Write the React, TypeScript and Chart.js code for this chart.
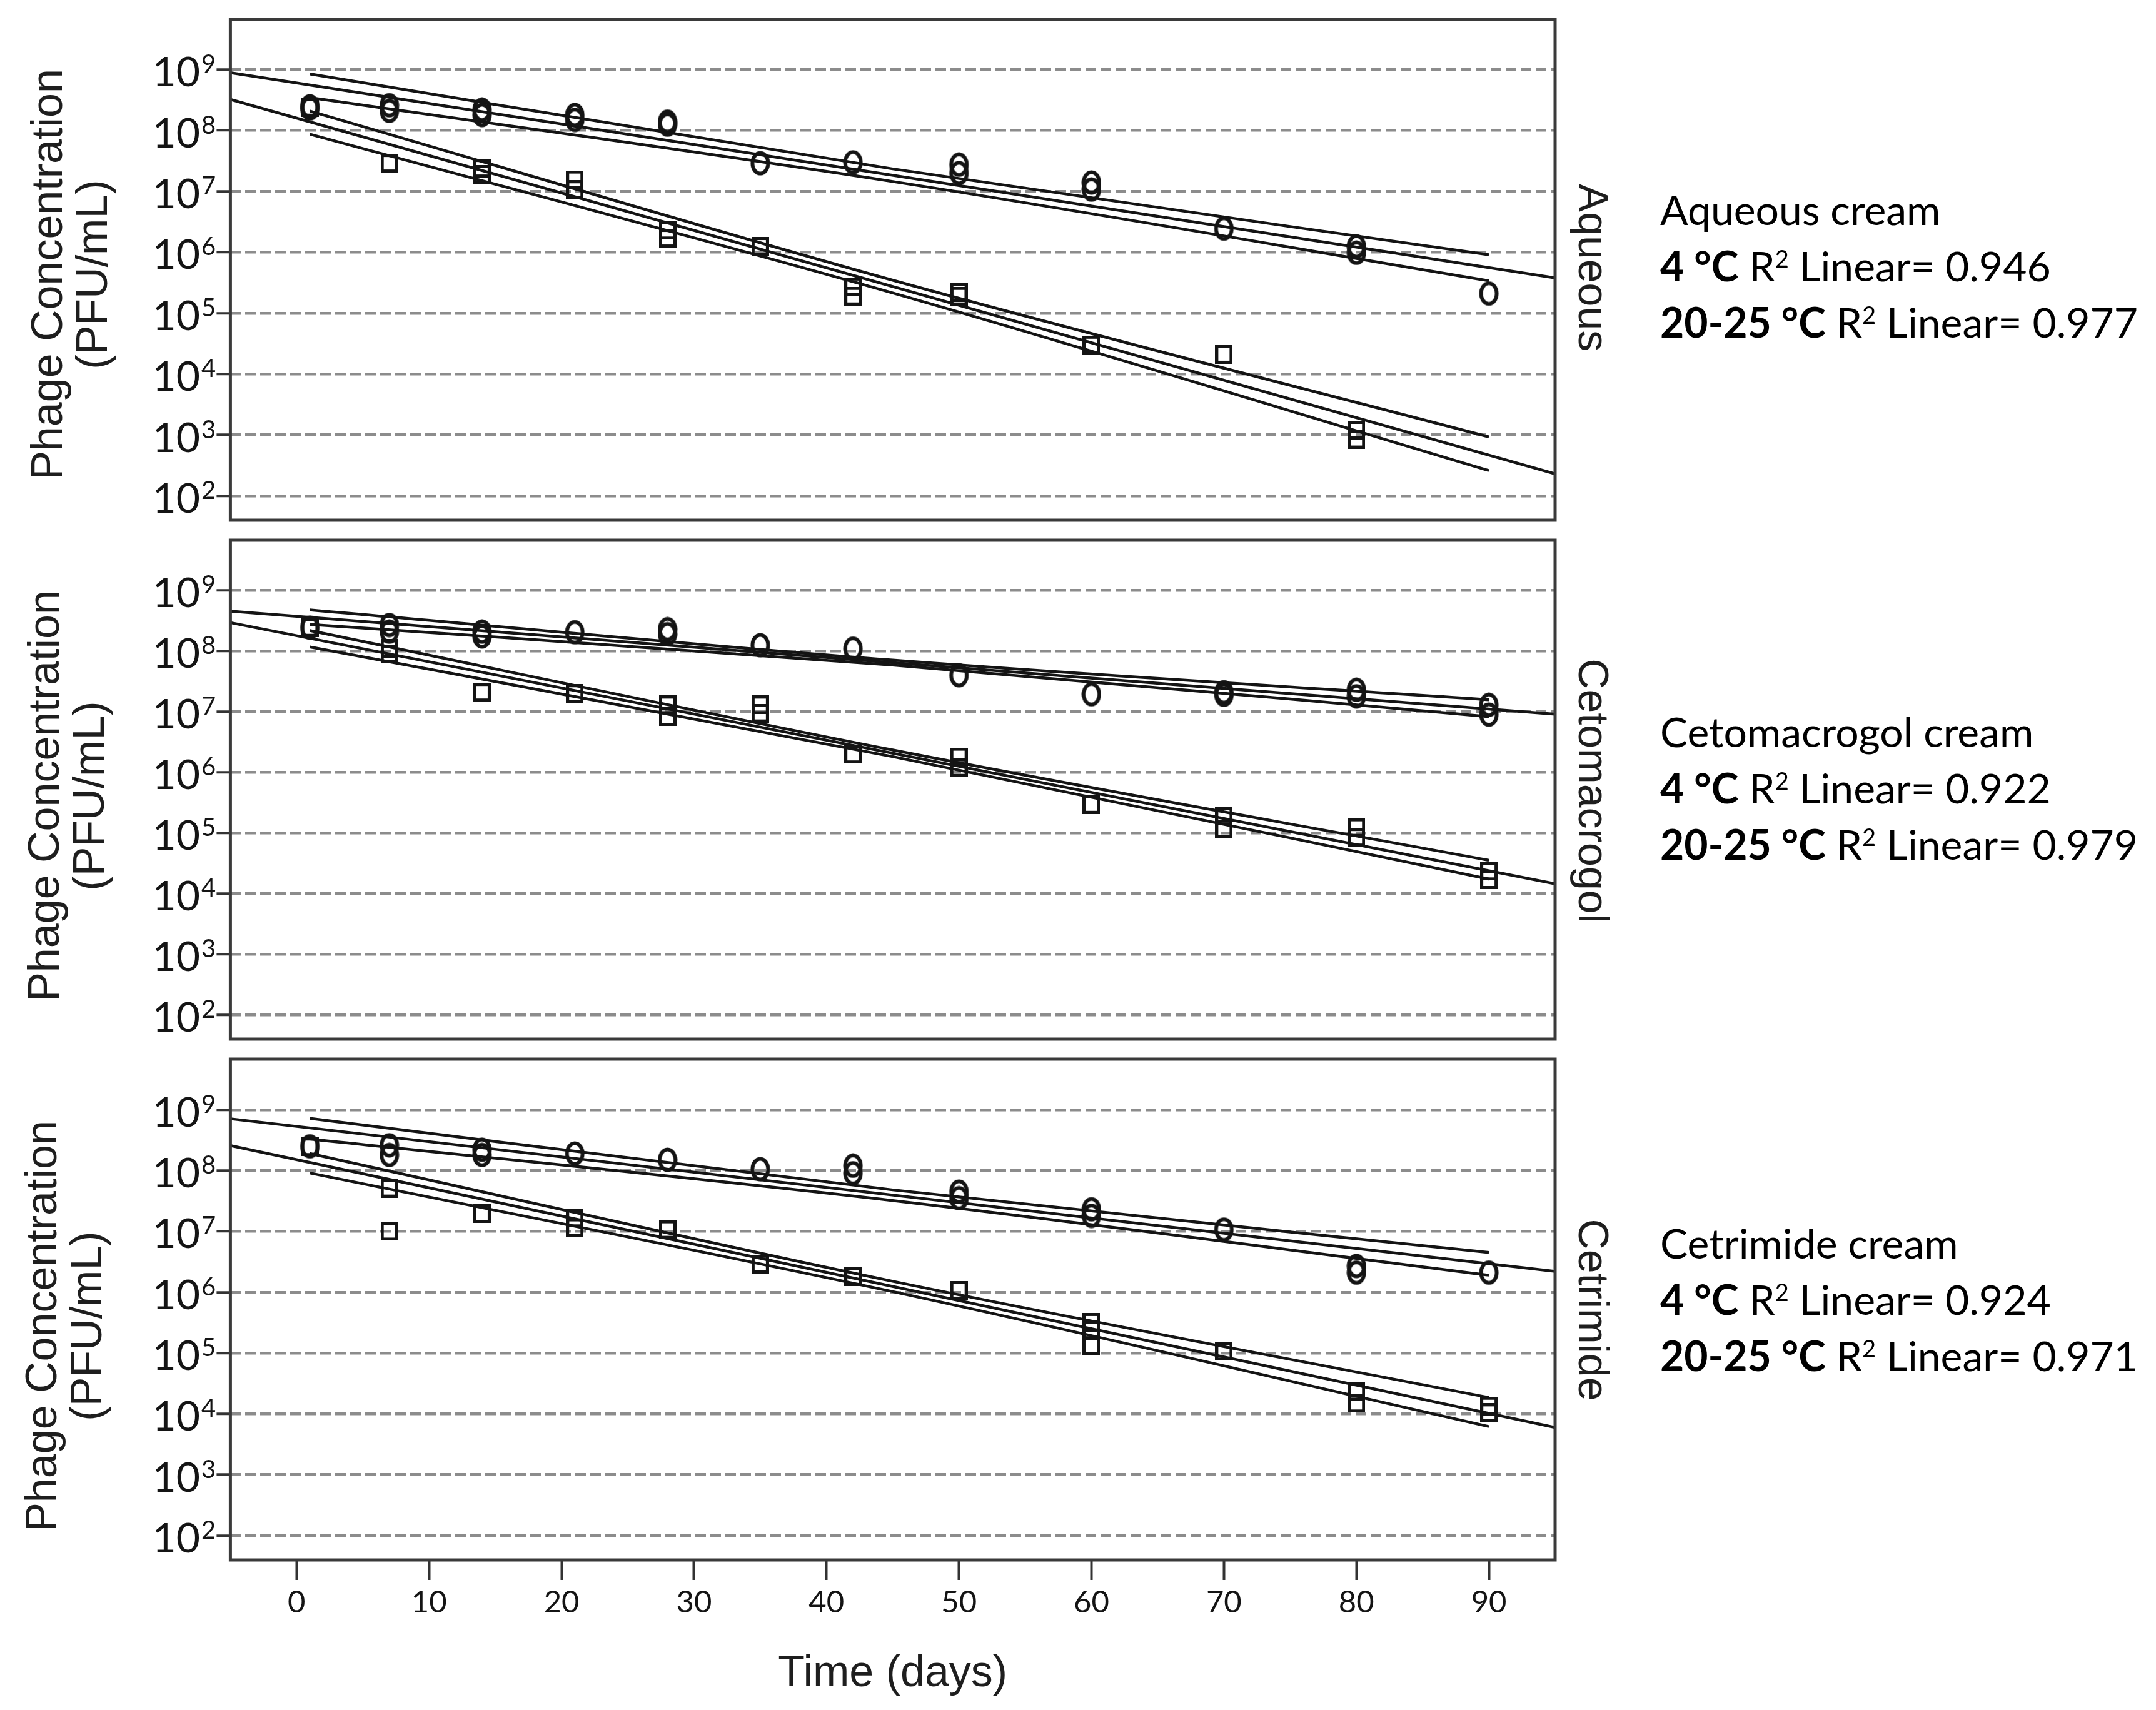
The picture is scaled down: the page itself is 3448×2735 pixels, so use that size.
import { useEffect, useRef } from "react"
import Chart from "chart.js/auto"

// ---- data (days vs PFU/mL) ----
const X_TICKS = [0, 10, 20, 30, 40, 50, 60, 70, 80, 90]
const Y_TICKS = [1e2, 1e3, 1e4, 1e5, 1e6, 1e7, 1e8, 1e9]
const FIT_DAYS = [-5, 95]
const CI_DAYS = [1, 45, 90]

// Aqueous cream
const AQ_COLD_DAYS = [1, 1, 7, 7, 14, 14, 21, 21, 28, 28, 35, 42, 50, 50, 60, 60, 70, 80, 80, 90]
const AQ_COLD_PFU = [2.5e8, 2.3e8, 2.6e8, 2.1e8, 2.2e8, 1.8e8, 1.8e8, 1.5e8, 1.4e8, 1.25e8, 2.9e7, 3.0e7, 2.75e7, 2.0e7, 1.4e7, 1.07e7, 2.45e6, 1.25e6, 9.8e5, 2.1e5]
const AQ_ROOM_DAYS = [1, 7, 14, 14, 21, 21, 28, 28, 35, 42, 42, 50, 50, 60, 70, 80, 80]
const AQ_ROOM_PFU = [2.4e8, 2.9e7, 2.4e7, 1.9e7, 1.55e7, 1.07e7, 2.3e6, 1.7e6, 1.25e6, 2.7e5, 1.9e5, 2.2e5, 1.9e5, 3.0e4, 2.1e4, 1.2e3, 8.5e2]
const AQ_COLD_FIT = [8.9e8, 3.8e5]
const AQ_COLD_CI_HI = [8.5e8, 2.34e7, 9.1e5]
const AQ_COLD_CI_LO = [3.47e8, 1.45e7, 3.4e5]
const AQ_ROOM_FIT = [3.24e8, 2.3e2]
const AQ_ROOM_CI_HI = [2.09e8, 3.47e5, 9.3e2]
const AQ_ROOM_CI_LO = [8.7e7, 2.14e5, 2.6e2]

// Cetomacrogol cream
const CE_COLD_DAYS = [1, 7, 7, 14, 14, 21, 28, 28, 35, 42, 50, 60, 70, 70, 80, 80, 90, 90]
const CE_COLD_PFU = [2.45e8, 2.7e8, 2.1e8, 2.1e8, 1.75e8, 2.05e8, 2.3e8, 1.9e8, 1.25e8, 1.1e8, 4.0e7, 1.95e7, 2.1e7, 1.9e7, 2.3e7, 1.8e7, 1.3e7, 9.0e6]
const CE_ROOM_DAYS = [1, 7, 7, 14, 21, 28, 28, 35, 35, 42, 50, 50, 60, 70, 70, 80, 80, 90, 90]
const CE_ROOM_PFU = [2.45e8, 1.1e8, 9.0e7, 2.1e7, 2.0e7, 1.3e7, 8.3e6, 1.3e7, 9.5e6, 2.0e6, 1.8e6, 1.2e6, 2.95e5, 1.9e5, 1.17e5, 1.23e5, 8.5e4, 2.35e4, 1.7e4]
const CE_COLD_FIT = [4.57e8, 9.1e6]
const CE_COLD_CI_HI = [4.8e8, 7.1e7, 1.58e7]
const CE_COLD_CI_LO = [2.75e8, 5.9e7, 8.3e6]
const CE_ROOM_FIT = [2.95e8, 1.45e4]
const CE_ROOM_CI_HI = [2.19e8, 2.34e6, 3.55e4]
const CE_ROOM_CI_LO = [1.17e8, 1.82e6, 1.74e4]

// Cetrimide cream
const CT_COLD_DAYS = [1, 7, 7, 14, 14, 21, 28, 35, 42, 42, 50, 50, 60, 60, 70, 80, 80, 90]
const CT_COLD_PFU = [2.5e8, 2.6e8, 1.8e8, 2.2e8, 1.8e8, 1.9e8, 1.5e8, 1.05e8, 1.2e8, 9.0e7, 4.5e7, 3.5e7, 2.3e7, 1.8e7, 1.07e7, 2.7e6, 2.1e6, 2.1e6]
const CT_ROOM_DAYS = [1, 7, 7, 14, 21, 21, 28, 35, 42, 50, 60, 60, 60, 70, 80, 80, 90, 90]
const CT_ROOM_PFU = [2.45e8, 5.1e7, 1.0e7, 1.95e7, 1.65e7, 1.15e7, 1.07e7, 2.9e6, 1.8e6, 1.07e6, 3.2e5, 2.4e5, 1.3e5, 1.07e5, 2.35e4, 1.5e4, 1.35e4, 1.05e4]
const CT_COLD_FIT = [7.08e8, 2.19e6]
const CT_COLD_CI_HI = [7.2e8, 4.8e7, 4.5e6]
const CT_COLD_CI_LO = [3.3e8, 3.2e7, 1.9e6]
const CT_ROOM_FIT = [2.57e8, 6.0e3]
const CT_ROOM_CI_HI = [1.9e8, 1.51e6, 1.86e4]
const CT_ROOM_CI_LO = [9.1e7, 1.02e6, 6.2e3]

const PANEL_NAMES = ["Aqueous", "Cetomacrogol", "Cetrimide"]
const CREAM_NAMES = ["Aqueous cream", "Cetomacrogol cream", "Cetrimide cream"]
const R2_COLD = ["0.946", "0.922", "0.924"]
const R2_ROOM = ["0.977", "0.979", "0.971"]

const Y_MIN = 10 ** 1.6
const Y_MAX = 10 ** 9.83

// ---- layout (page pixels) ----
const PAGE_W = 3448
const PAGE_H = 2735
const PLOT_LEFT = 368.4
const PLOT_RIGHT = 2487
const X_AXIS_H = 110
const INK = "#141414"
const SANS = '"Liberation Sans", Arial, sans-serif'
const CAL = "Lato, sans-serif"

const PANELS = [
  { top: 0, h: 848, padTop: 30.5, padBottom: 14, titleCY: 439, titleX: 99, labelCY: 428, annot: [360, 450, 540] },
  { top: 848, h: 830, padTop: 13.5, padBottom: 12.3, titleCY: 1273, titleX: 94, labelCY: 1265, annot: [1195, 1285, 1375] },
  { top: 1678, h: 1057, padTop: 15, padBottom: 240 - X_AXIS_H, titleCY: 2121, titleX: 89.5, labelCY: 2095, annot: [2013, 2103, 2193] },
]

const SERIES = [
  { cold: [AQ_COLD_DAYS, AQ_COLD_PFU], room: [AQ_ROOM_DAYS, AQ_ROOM_PFU], coldFit: AQ_COLD_FIT, coldHi: AQ_COLD_CI_HI, coldLo: AQ_COLD_CI_LO, roomFit: AQ_ROOM_FIT, roomHi: AQ_ROOM_CI_HI, roomLo: AQ_ROOM_CI_LO },
  { cold: [CE_COLD_DAYS, CE_COLD_PFU], room: [CE_ROOM_DAYS, CE_ROOM_PFU], coldFit: CE_COLD_FIT, coldHi: CE_COLD_CI_HI, coldLo: CE_COLD_CI_LO, roomFit: CE_ROOM_FIT, roomHi: CE_ROOM_CI_HI, roomLo: CE_ROOM_CI_LO },
  { cold: [CT_COLD_DAYS, CT_COLD_PFU], room: [CT_ROOM_DAYS, CT_ROOM_PFU], coldFit: CT_COLD_FIT, coldHi: CT_COLD_CI_HI, coldLo: CT_COLD_CI_LO, roomFit: CT_ROOM_FIT, roomHi: CT_ROOM_CI_HI, roomLo: CT_ROOM_CI_LO },
]

const pts = (xs: number[], ys: number[]) => xs.map((x, i) => ({ x, y: ys[i] }))

function makeEllipse() {
  const c = document.createElement("canvas")
  c.width = 32
  c.height = 40
  const g = c.getContext("2d")!
  g.strokeStyle = INK
  g.lineWidth = 6
  g.beginPath()
  g.ellipse(16, 20, 12.5, 16.5, 0, 0, Math.PI * 2)
  g.stroke()
  return c
}

function makeSquare() {
  const c = document.createElement("canvas")
  c.width = 28
  c.height = 30
  const g = c.getContext("2d")!
  g.strokeStyle = INK
  g.lineWidth = 5
  g.strokeRect(2.5, 2.5, 23, 25)
  return c
}

type Run = { t: string; bold?: boolean; sup?: boolean }

function drawRuns(ctx: CanvasRenderingContext2D, x: number, y: number, runs: Run[]) {
  let cx = x
  for (const r of runs) {
    ctx.font = `${r.bold ? "bold " : ""}${r.sup ? 38 : 66}px ${CAL}`
    ctx.fillText(r.t, cx, r.sup ? y - 22 : y)
    cx += ctx.measureText(r.t).width
  }
}

function panelPlugin(idx: number) {
  const p = PANELS[idx]
  return {
    id: "panelDecor" + idx,
    afterDraw(chart: any) {
      const { ctx, chartArea: a } = chart
      const ys = chart.scales.y
      const off = p.top
      ctx.save()
      // frame
      ctx.strokeStyle = "#3a3a3a"
      ctx.lineWidth = 5
      ctx.strokeRect(a.left, a.top, a.right - a.left, a.bottom - a.top)

      // y tick labels 10^n
      ctx.fillStyle = INK
      ctx.textBaseline = "alphabetic"
      for (const v of Y_TICKS) {
        const py = ys.getPixelForValue(v)
        ctx.font = `66px ${CAL}`
        ctx.textAlign = "right"
        ctx.fillText("10", 320, py + 27)
        ctx.font = `40px ${CAL}`
        ctx.textAlign = "left"
        ctx.fillText(String(Math.round(Math.log10(v))), 322, py + 5)
      }

      // y axis title
      ctx.font = `70px ${SANS}`
      ctx.textAlign = "center"
      ctx.fillStyle = "#1e1e1e"
      ctx.save()
      ctx.translate(p.titleX, p.titleCY - off)
      ctx.rotate(-Math.PI / 2)
      ctx.fillText("Phage Concentration", 0, 0)
      ctx.fillText("(PFU/mL)", 0, 72)
      ctx.restore()

      // panel name on the right
      ctx.font = `68px ${SANS}`
      ctx.save()
      ctx.translate(2525, p.labelCY - off)
      ctx.rotate(Math.PI / 2)
      ctx.fillText(PANEL_NAMES[idx], 0, 0)
      ctx.restore()

      // annotations
      ctx.textAlign = "left"
      ctx.fillStyle = "#000"
      const ax = 2655
      drawRuns(ctx, ax, p.annot[0] - off, [{ t: CREAM_NAMES[idx] }])
      drawRuns(ctx, ax, p.annot[1] - off, [
        { t: "4 °C", bold: true },
        { t: " R" },
        { t: "2", sup: true },
        { t: " Linear= " + R2_COLD[idx] },
      ])
      drawRuns(ctx, ax, p.annot[2] - off, [
        { t: "20-25 °C", bold: true },
        { t: " R" },
        { t: "2", sup: true },
        { t: " Linear= " + R2_ROOM[idx] },
      ])

      if (idx === 2) {
        ctx.font = `70px ${SANS}`
        ctx.textAlign = "center"
        ctx.fillStyle = "#1e1e1e"
        ctx.fillText("Time (days)", (PLOT_LEFT + PLOT_RIGHT) / 2, 2697 - off)
      }
      ctx.restore()
    },
  }
}

function lineSet(label: string, xs: number[], ys: number[], curved: boolean) {
  return {
    label,
    data: pts(xs, ys),
    showLine: true,
    pointRadius: 0,
    borderColor: INK,
    borderWidth: 4.5,
    fill: false,
    cubicInterpolationMode: curved ? "monotone" : "default",
  }
}

export default function App() {
  const canvasRefs = useRef<(HTMLCanvasElement | null)[]>([])

  useEffect(() => {
    const ellipse = makeEllipse()
    const square = makeSquare()
    const charts = PANELS.map((p, i) => {
      const s = SERIES[i]
      const isLast = i === PANELS.length - 1
      return new Chart(canvasRefs.current[i]!, {
        type: "scatter",
        data: {
          datasets: [
            { label: "4 °C", data: pts(s.cold[0], s.cold[1]), pointStyle: ellipse, pointRadius: 15, showLine: false },
            { label: "20-25 °C", data: pts(s.room[0], s.room[1]), pointStyle: square, pointRadius: 15, showLine: false },
            lineSet("4 °C fit", FIT_DAYS, s.coldFit, false),
            lineSet("4 °C CI upper", CI_DAYS, s.coldHi, true),
            lineSet("4 °C CI lower", CI_DAYS, s.coldLo, true),
            lineSet("20-25 °C fit", FIT_DAYS, s.roomFit, false),
            lineSet("20-25 °C CI upper", CI_DAYS, s.roomHi, true),
            lineSet("20-25 °C CI lower", CI_DAYS, s.roomLo, true),
          ] as any,
        },
        options: {
          animation: false,
          responsive: false,
          devicePixelRatio: 1,
          layout: {
            padding: { left: PLOT_LEFT, right: PAGE_W - PLOT_RIGHT, top: p.padTop, bottom: p.padBottom },
          },
          plugins: { legend: { display: false }, tooltip: { enabled: false } },
          scales: {
            x: {
              type: "linear",
              min: -5,
              max: 95,
              display: isLast,
              afterBuildTicks: (sc: any) => {
                sc.ticks = X_TICKS.map((value) => ({ value }))
              },
              afterFit: (sc: any) => {
                sc.height = isLast ? X_AXIS_H : 0
              },
              grid: {
                drawOnChartArea: false,
                drawTicks: true,
                tickLength: 32,
                tickColor: "#333",
                tickWidth: 4,
              },
              border: { display: false },
              ticks: {
                font: { family: CAL, size: 49 },
                color: INK,
                padding: 7,
                maxRotation: 0,
                autoSkip: false,
                callback: (v: any) => String(v),
              },
            },
            y: {
              type: "logarithmic",
              min: Y_MIN,
              max: Y_MAX,
              bounds: "data",
              afterBuildTicks: (sc: any) => {
                sc.ticks = Y_TICKS.map((value) => ({ value }))
              },
              afterFit: (sc: any) => {
                sc.width = 0
              },
              ticks: { display: false },
              grid: {
                color: "#8c8c8c",
                lineWidth: 4.5,
                drawTicks: true,
                tickLength: 22,
                tickColor: "#333",
                tickWidth: 4,
              },
              border: { display: false, dash: [17, 7] },
            },
          },
        } as any,
        plugins: [panelPlugin(i)],
      })
    })
    return () => charts.forEach((c) => c.destroy())
  }, [])

  return (
    <div style={{ position: "absolute", left: 0, top: 0, width: PAGE_W, height: PAGE_H, background: "#fff", overflow: "hidden" }}>
      {PANELS.map((p, i) => (
        <canvas
          key={i}
          ref={(el) => {
            canvasRefs.current[i] = el
          }}
          width={PAGE_W}
          height={p.h}
          style={{ position: "absolute", left: 0, top: p.top, width: PAGE_W, height: p.h }}
        />
      ))}
    </div>
  )
}
